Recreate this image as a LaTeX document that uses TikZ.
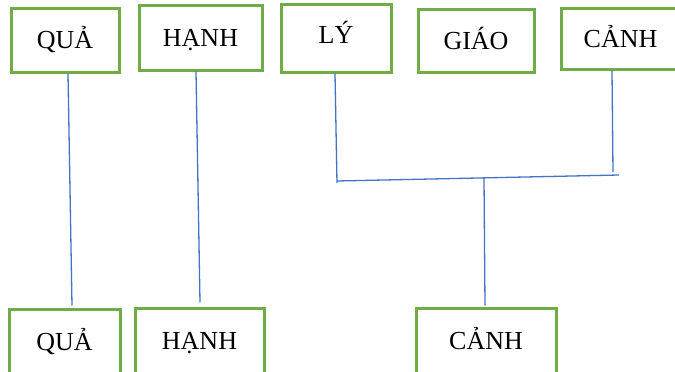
\documentclass[tikz,border=0pt]{standalone}
\usepackage{fontspec}
\setmainfont{Liberation Serif}
\definecolor{boxgreen}{HTML}{70AD47}
\definecolor{lineblue}{HTML}{4472C4}
\tikzset{
	box/.style={draw=boxgreen, line width=3pt, inner sep=0pt, text height=17pt, text depth=0pt, font=\fontsize{26}{30}\selectfont},
	link/.style={draw=lineblue, line width=1.3pt}
}
\begin{document}
\begin{tikzpicture}[x=1pt,y=-1pt]
	\useasboundingbox (0,0) rectangle (675,372);
	% top row
	\node[box, minimum width=108pt, minimum height=64pt] (qua1) at (65,40) {QUẢ};
	\node[box, minimum width=123pt, minimum height=65pt] (hanh1) at (200.5,37.5) {HẠNH};
	\node[box, minimum width=110pt, minimum height=68pt, text depth=7pt] (ly) at (336,38) {LÝ};
	\node[box, minimum width=116pt, minimum height=63pt] (giao) at (476,40.5) {GIÁO};
	\node[box, minimum width=119pt, minimum height=61pt] (canh1) at (620.5,38.5) {CẢNH};
	% bottom row
	\node[box, minimum width=111pt, minimum height=65pt] (qua2) at (64.5,341.5) {QUẢ};
	\node[box, minimum width=129pt, minimum height=65pt] (hanh2) at (199.5,340.5) {HẠNH};
	\node[box, minimum width=140pt, minimum height=65pt] (canh2) at (486,340.5) {CẢNH};
	% joints
	\coordinate (lyend) at (337,183);
	\coordinate (canhend) at (613,172);
	\coordinate (barl) at (337,181);
	\coordinate (barr) at (619,175);
	\coordinate (barm) at (484,178);
	% links
	\draw[link] ([xshift=3pt]qua1.south) -- ([xshift=7.5pt,yshift=2pt]qua2.north);
	\draw[link] ([xshift=-4.5pt]hanh1.south) -- ([xshift=0.5pt,yshift=4pt]hanh2.north);
	\draw[link] ([xshift=-1pt]ly.south) -- (lyend);
	\draw[link] ([xshift=-8.5pt]canh1.south) -- (canhend);
	\draw[link] (barl) -- (barr);
	\draw[link] (barm) -- ([xshift=-1pt,yshift=1pt]canh2.north);
\end{tikzpicture}
\end{document}
